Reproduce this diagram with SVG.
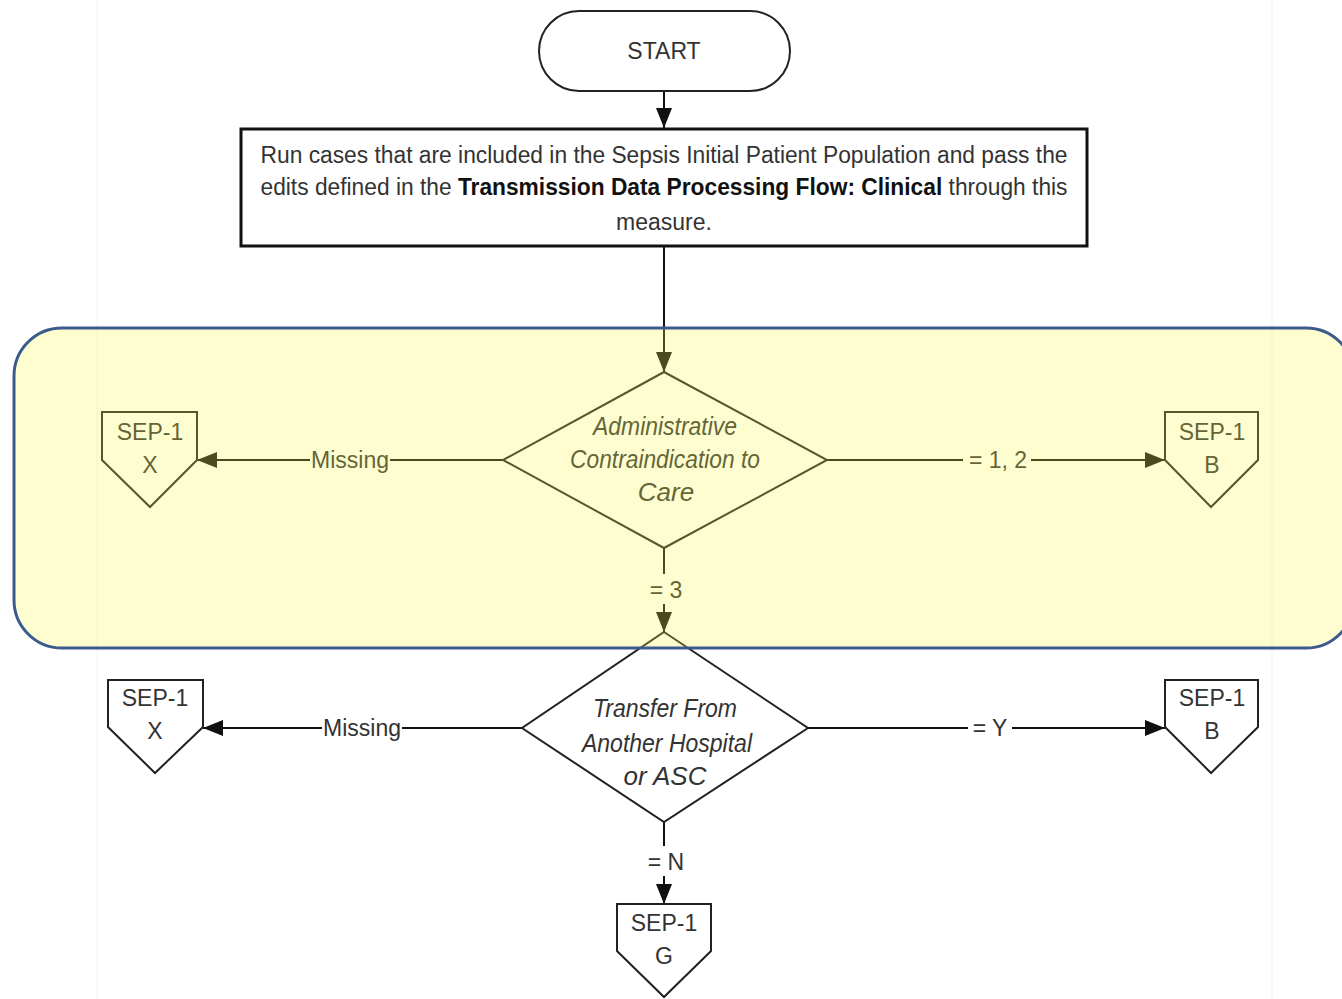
<svg xmlns="http://www.w3.org/2000/svg" width="1342" height="999" viewBox="0 0 1342 999">
  <defs>
    <marker id="arrow" viewBox="0 0 20 16" refX="20" refY="8" markerWidth="20" markerHeight="16" markerUnits="userSpaceOnUse" orient="auto">
      <path d="M0,0 L20,8 L0,16 Z" fill="#111"/>
    </marker>
    <style>
      .shape { fill: #fff; stroke: #222; stroke-width: 2; }
      .line { fill: none; stroke: #111; stroke-width: 2; }
      .txt { font-family: "Liberation Sans Narrow", "Liberation Sans", Arial, sans-serif; font-size: 23px; fill: #333; text-anchor: middle; }
      .dec { font-family: "Liberation Sans Narrow", "Liberation Sans", Arial, sans-serif; font-size: 26px; font-style: italic; fill: #333; text-anchor: middle; }
      .lbl { font-family: "Liberation Sans Narrow", "Liberation Sans", Arial, sans-serif; font-size: 23px; fill: #333; text-anchor: middle; }
      .page { stroke: #f1f1f1; stroke-width: 1; }
    </style>
  </defs>

  <rect width="1342" height="999" fill="#fff"/>
  <line class="page" x1="97" y1="0" x2="97" y2="999"/>
  <line class="page" x1="1272" y1="0" x2="1272" y2="999"/>

  <g id="connectors">
    <line class="line" x1="664" y1="91" x2="664" y2="128" marker-end="url(#arrow)"/>
    <line class="line" x1="664" y1="246" x2="664" y2="372" marker-end="url(#arrow)"/>
    <line class="line" x1="503" y1="460" x2="197" y2="460" marker-end="url(#arrow)"/>
    <line class="line" x1="827" y1="460" x2="1165" y2="460" marker-end="url(#arrow)"/>
    <line class="line" x1="664" y1="548" x2="664" y2="632" marker-end="url(#arrow)"/>
    <line class="line" x1="522" y1="728" x2="203" y2="728" marker-end="url(#arrow)"/>
    <line class="line" x1="808" y1="728" x2="1165" y2="728" marker-end="url(#arrow)"/>
    <line class="line" x1="664" y1="822" x2="664" y2="904" marker-end="url(#arrow)"/>
    <!-- branch labels sit on white/yellow patches over the lines -->
    <rect x="310" y="447" width="80" height="26" fill="#fff"/>
    <text class="lbl" x="350" y="468">Missing</text>
    <rect x="963" y="447" width="68" height="26" fill="#fff"/>
    <text class="lbl" x="998" y="468">= 1, 2</text>
    <rect x="645" y="574" width="38" height="30" fill="#fff"/>
    <text class="lbl" x="666" y="598">= 3</text>
    <rect x="322" y="715" width="80" height="26" fill="#fff"/>
    <text class="lbl" x="362" y="736">Missing</text>
    <rect x="968" y="715" width="44" height="26" fill="#fff"/>
    <text class="lbl" x="990" y="736">= Y</text>
    <rect x="645" y="846" width="42" height="30" fill="#fff"/>
    <text class="lbl" x="666" y="870">= N</text>
  </g>

  <g id="start">
    <rect class="shape" x="539" y="11" width="251" height="80" rx="40" ry="40"/>
    <text class="txt" x="664" y="59">START</text>
  </g>

  <g id="run-cases">
    <rect x="241" y="129" width="846" height="117" fill="#fff" stroke="#111" stroke-width="3"/>
    <text class="txt" x="664" y="163" textLength="807" lengthAdjust="spacingAndGlyphs">Run cases that are included in the Sepsis Initial Patient Population and pass the</text>
    <text class="txt" x="664" y="195" textLength="807" lengthAdjust="spacingAndGlyphs">edits defined in the <tspan font-weight="bold" fill="#111">Transmission Data Processing Flow: Clinical</tspan> through this</text>
    <text class="txt" x="664" y="230">measure.</text>
  </g>

  <g id="admin-contraindication">
    <polygon class="shape" points="664,372 827,460 664,548 503,460"/>
    <text class="dec" x="665" y="435" textLength="144" lengthAdjust="spacingAndGlyphs">Administrative</text>
    <text class="dec" x="665" y="468" textLength="190" lengthAdjust="spacingAndGlyphs">Contraindication to</text>
    <text class="dec" x="666" y="501">Care</text>
  </g>

  <g id="transfer">
    <polygon class="shape" points="664,632 808,728 664,822 522,728"/>
    <text class="dec" x="665" y="717" textLength="144" lengthAdjust="spacingAndGlyphs">Transfer From</text>
    <text class="dec" x="667" y="752" textLength="170" lengthAdjust="spacingAndGlyphs">Another Hospital</text>
    <text class="dec" x="665" y="785">or ASC</text>
  </g>

  <g id="sep1-x-top">
    <polygon class="shape" points="102,412 197,412 197,460 150,507 102,460"/>
    <text class="txt" x="150" y="440">SEP-1</text>
    <text class="txt" x="150" y="473">X</text>
  </g>

  <g id="sep1-b-top">
    <polygon class="shape" points="1165,412 1258,412 1258,460 1211,507 1165,460"/>
    <text class="txt" x="1212" y="440">SEP-1</text>
    <text class="txt" x="1212" y="473">B</text>
  </g>

  <g id="sep1-x-bottom">
    <polygon class="shape" points="108,680 203,680 203,727 155,773 108,727"/>
    <text class="txt" x="155" y="706">SEP-1</text>
    <text class="txt" x="155" y="739">X</text>
  </g>

  <g id="sep1-b-bottom">
    <polygon class="shape" points="1165,680 1258,680 1258,727 1211,773 1165,727"/>
    <text class="txt" x="1212" y="706">SEP-1</text>
    <text class="txt" x="1212" y="739">B</text>
  </g>

  <g id="sep1-g">
    <polygon class="shape" points="617,904 711,904 711,951 664,997 617,951"/>
    <text class="txt" x="664" y="931">SEP-1</text>
    <text class="txt" x="664" y="964">G</text>
  </g>

  <!-- translucent highlight band over the first decision -->
  <g id="highlight">
    <rect x="14" y="328" width="1340" height="320" rx="48" ry="48" fill="#f8f844" fill-opacity="0.25" stroke="#3b5b8c" stroke-width="3"/>
  </g>
</svg>
